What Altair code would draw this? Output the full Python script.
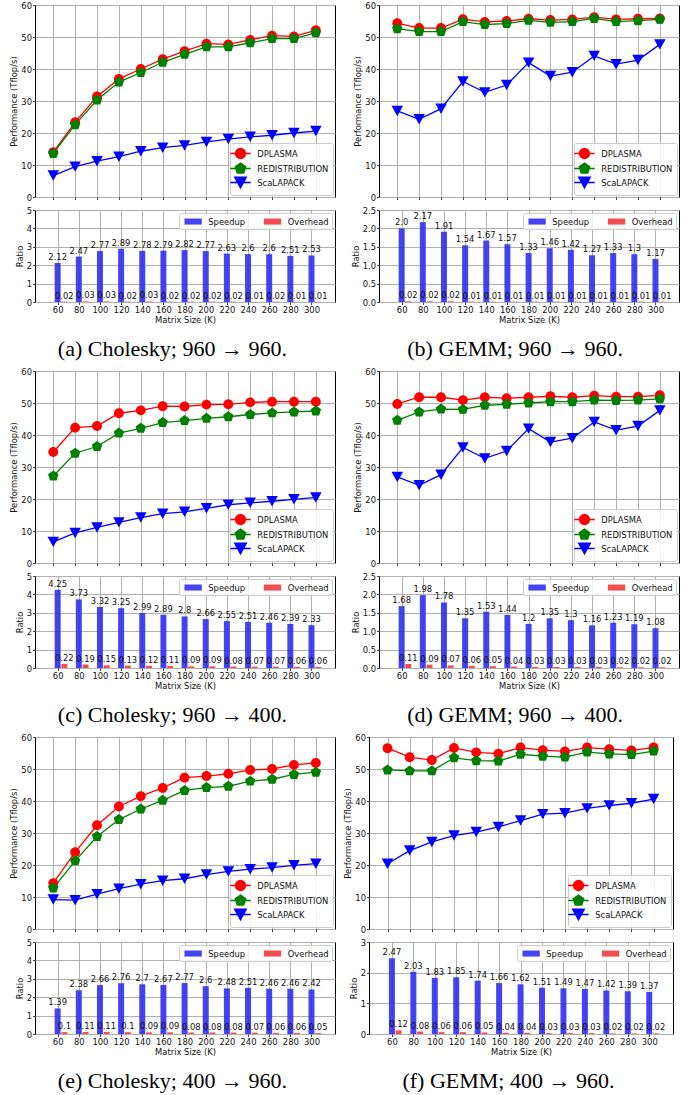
import altair as alt
import pandas as pd

sizes = [60, 80, 100, 120, 140, 160, 180, 200, 220, 240, 260, 280, 300]
series_names = ["DPLASMA", "REDISTRIBUTION", "ScaLAPACK"]
series_colors = ["#ff0000", "#008000", "#0000ff"]
ratio_names = ["Speedup", "Overhead"]
ratio_colors = ["#3030f0", "#f03c3c"]

# (a) Cholesky 960 -> 960
a_dplasma = [14.0, 23.4, 31.4, 36.9, 40.0, 43.1, 45.6, 47.9, 47.7, 49.1, 50.4, 50.2, 52.1]
a_redist = [13.6, 22.6, 30.3, 35.9, 38.9, 42.1, 44.6, 46.9, 46.9, 48.2, 49.5, 49.5, 51.3]
a_scalapack = [6.7, 9.5, 11.2, 12.6, 14.3, 15.4, 16.1, 17.2, 18.1, 18.8, 19.3, 20.0, 20.6]
a_speedup = [2.12, 2.47, 2.77, 2.89, 2.78, 2.79, 2.82, 2.77, 2.63, 2.6, 2.6, 2.51, 2.53]
a_overhead = [0.02, 0.03, 0.03, 0.02, 0.03, 0.02, 0.02, 0.02, 0.02, 0.01, 0.02, 0.01, 0.01]

# (b) GEMM 960 -> 960
b_dplasma = [54.3, 52.8, 52.8, 55.6, 54.7, 55.0, 55.7, 55.3, 55.5, 56.2, 55.5, 55.7, 55.8]
b_redist = [52.6, 51.7, 51.7, 54.8, 53.9, 54.2, 55.2, 54.6, 54.8, 55.8, 54.8, 55.1, 55.5]
b_scalapack = [26.9, 24.3, 27.6, 36.1, 32.7, 35.0, 42.0, 37.8, 39.0, 44.1, 41.5, 42.8, 47.7]
b_speedup = [2.0, 2.17, 1.91, 1.54, 1.67, 1.57, 1.33, 1.46, 1.42, 1.27, 1.33, 1.3, 1.17]
b_overhead = [0.02, 0.02, 0.02, 0.01, 0.01, 0.01, 0.01, 0.01, 0.01, 0.01, 0.01, 0.01, 0.01]

# (c) Cholesky 960 -> 400
c_dplasma = [34.7, 42.3, 42.8, 46.8, 47.7, 49.0, 48.9, 49.5, 49.6, 50.2, 50.4, 50.4, 50.4]
c_redist = [27.2, 34.3, 36.4, 40.6, 42.1, 43.9, 44.5, 45.2, 45.7, 46.4, 46.9, 47.2, 47.5]
c_scalapack = [6.6, 9.4, 11.1, 12.7, 14.2, 15.4, 16.0, 17.1, 18.2, 18.8, 19.3, 19.9, 20.5]
c_speedup = [4.25, 3.73, 3.32, 3.25, 2.99, 2.89, 2.8, 2.66, 2.55, 2.51, 2.46, 2.39, 2.33]
c_overhead = [0.22, 0.19, 0.15, 0.13, 0.12, 0.11, 0.09, 0.09, 0.08, 0.07, 0.07, 0.06, 0.06]

# (d) GEMM 960 -> 400
d_dplasma = [49.7, 51.8, 51.8, 50.9, 51.8, 51.5, 51.8, 52.1, 51.8, 52.3, 52.0, 52.0, 52.4]
d_redist = [44.6, 47.2, 48.1, 48.0, 49.3, 49.6, 50.0, 50.4, 50.4, 50.9, 50.8, 50.9, 51.3]
d_scalapack = [26.9, 24.3, 27.6, 36.1, 32.7, 35.0, 42.0, 37.8, 39.0, 44.1, 41.5, 42.8, 47.7]
d_speedup = [1.68, 1.98, 1.78, 1.35, 1.53, 1.44, 1.2, 1.35, 1.3, 1.16, 1.23, 1.19, 1.08]
d_overhead = [0.11, 0.09, 0.07, 0.06, 0.05, 0.04, 0.03, 0.03, 0.03, 0.03, 0.02, 0.02, 0.02]

# (e) Cholesky 400 -> 960
e_dplasma = [14.3, 24.0, 32.4, 38.3, 41.5, 44.1, 47.3, 47.8, 48.5, 49.7, 50.0, 51.3, 51.9]
e_redist = [12.8, 21.3, 28.9, 34.2, 37.5, 40.2, 43.3, 44.2, 44.6, 46.2, 46.8, 48.3, 49.0]
e_scalapack = [9.2, 9.0, 10.9, 12.6, 14.0, 15.1, 15.7, 17.0, 18.0, 18.7, 19.2, 19.9, 20.4]
e_speedup = [1.39, 2.38, 2.66, 2.76, 2.7, 2.67, 2.77, 2.6, 2.48, 2.51, 2.46, 2.46, 2.42]
e_overhead = [0.1, 0.11, 0.11, 0.1, 0.09, 0.09, 0.08, 0.08, 0.08, 0.07, 0.06, 0.06, 0.05]

# (f) GEMM 400 -> 960
f_dplasma = [56.5, 53.7, 52.8, 56.6, 55.2, 54.8, 56.7, 55.9, 55.5, 56.7, 56.2, 55.8, 56.7]
f_redist = [49.7, 49.4, 49.4, 53.5, 52.6, 52.5, 54.6, 54.0, 53.7, 55.3, 54.7, 54.5, 55.6]
f_scalapack = [20.4, 24.5, 27.2, 29.2, 30.3, 31.9, 33.9, 35.9, 36.2, 37.7, 38.6, 39.3, 40.6]
f_speedup = [2.47, 2.03, 1.83, 1.85, 1.74, 1.66, 1.62, 1.51, 1.49, 1.47, 1.42, 1.39, 1.37]
f_overhead = [0.12, 0.08, 0.06, 0.06, 0.05, 0.04, 0.04, 0.03, 0.03, 0.03, 0.02, 0.02, 0.02]

captions = [
    "(a) Cholesky; 960 \u2192 960.",
    "(b) GEMM; 960 \u2192 960.",
    "(c) Cholesky; 960 \u2192 400.",
    "(d) GEMM; 960 \u2192 400.",
    "(e) Cholesky; 400 \u2192 960.",
    "(f) GEMM; 400 \u2192 960.",
]

FONT = "DejaVu Sans"
FS = 8.4
TXT = "#111111"

# marker outlines; the leading horizontal segment only shows where a stroke is drawn (legend)
legend_paths = [
    "M-1.85,0H1.85M0.9,0A0.9,0.9 0 1 1 -0.9,0A0.9,0.9 0 1 1 0.9,0Z",
    "M-1.85,0H1.85M0,-1L0.951,-0.309L0.588,0.809L-0.588,0.809L-0.951,-0.309Z",
    "M-1.85,0H1.85M-1.05,-0.95L1.05,-0.95L0,0.95Z",
]
ratio_patch = "M-0.7,-0.7H3.3V0.7H-0.7Z"

XSCALE = alt.Scale(domain=[43.3, 317.5], nice=False, zero=False)
INDEP = dict(color="independent", fill="independent", stroke="independent", shape="independent")


def perf_chart(dpl, red, sca, width):
    df = pd.DataFrame({
        "size": sizes * 3,
        "series": [n for n in series_names for _ in sizes],
        "perf": list(dpl) + list(red) + list(sca),
    })
    x = alt.X("size:Q", scale=XSCALE,
              axis=alt.Axis(values=sizes, labels=False, title=None))
    y = alt.Y("perf:Q", scale=alt.Scale(domain=[0, 60], nice=False),
              axis=alt.Axis(values=list(range(0, 61, 10)), title="Performance (Tflop/s)"))
    cscale = alt.Scale(domain=series_names, range=series_colors)
    leg = alt.Legend(title=None, orient="bottom-right", offset=2, padding=4, rowPadding=-6.5,
                     labelFontSize=FS, labelFont=FONT, labelColor=TXT, labelOffset=10.3,
                     labelLimit=200, symbolSize=121, symbolStrokeWidth=1.4, symbolOpacity=1,
                     fillColor="rgba(255,255,255,0.85)", strokeColor="#cccccc", cornerRadius=2)
    base = alt.Chart(df).encode(x=x, y=y)
    line = base.mark_line(strokeWidth=1.3).encode(
        color=alt.Color("series:N", scale=cscale, legend=leg))
    pts = base.mark_point(filled=True, size=121, opacity=1).encode(
        color=alt.Color("series:N", scale=cscale, legend=leg),
        stroke=alt.Stroke("series:N", scale=cscale, legend=leg),
        strokeOpacity=alt.value(0),
        shape=alt.Shape("series:N", scale=alt.Scale(domain=series_names, range=legend_paths), legend=leg))
    return alt.layer(line, pts).properties(width=width, height=192)


def ratio_chart(speed, over, ymax, yvals, yfmt, width):
    vals = list(speed) + list(over)
    df = pd.DataFrame({
        "size": sizes * 2,
        "metric": ["Speedup"] * len(sizes) + ["Overhead"] * len(sizes),
        "ratio": vals,
        "label": [str(v) for v in vals],
    })
    x = alt.X("size:Q", scale=XSCALE,
              axis=alt.Axis(values=sizes, title="Matrix Size (K)", labelFlush=False, labelOverlap=False))
    y = alt.Y("ratio:Q", scale=alt.Scale(domain=[0, ymax], nice=False),
              axis=alt.Axis(values=yvals, format=yfmt, title="Ratio"))
    rscale = alt.Scale(domain=ratio_names, range=ratio_colors)
    leg = alt.Legend(title=None, orient="top-right", direction="horizontal", offset=3, padding=3,
                     columnPadding=15.4, labelOffset=15.3, labelFontSize=FS, labelFont=FONT,
                     labelColor=TXT, symbolType=ratio_patch, symbolSize=75, symbolOpacity=0.9,
                     fillColor="rgba(255,255,255,0.85)", strokeColor="#cccccc", cornerRadius=2)
    base = alt.Chart(df).encode(x=x, y=y)
    sp = base.transform_filter(alt.datum.metric == "Speedup")
    ov = base.transform_filter(alt.datum.metric == "Overhead")
    bar_sp = sp.mark_bar(size=6, opacity=0.9).encode(
        color=alt.Color("metric:N", scale=rscale, legend=leg))
    bar_ov = ov.mark_bar(size=6, opacity=0.9, xOffset=6.7).encode(
        color=alt.Color("metric:N", scale=rscale, legend=leg))
    txt_sp = sp.mark_text(baseline="alphabetic", dy=-3, fontSize=FS, font=FONT, color=TXT).encode(
        text="label:N")
    txt_ov = ov.mark_text(baseline="alphabetic", dy=-3, dx=6.7, fontSize=FS, font=FONT, color=TXT).encode(
        text="label:N")
    return alt.layer(bar_sp, bar_ov, txt_sp, txt_ov).properties(width=width, height=92)


def panel(dpl, red, sca, speed, over, ymax, yvals, yfmt, cap, width=300):
    title = alt.TitleParams(text=cap, orient="bottom", anchor="middle", font="Liberation Serif",
                            fontSize=22, fontWeight="normal", color="black", offset=14)
    return alt.vconcat(perf_chart(dpl, red, sca, width),
                       ratio_chart(speed, over, ymax, yvals, yfmt, width),
                       spacing=3, title=title).resolve_scale(**INDEP).resolve_legend(**INDEP)


y5 = [0, 1, 2, 3, 4, 5]
y25 = [0, 0.5, 1.0, 1.5, 2.0, 2.5]
y3 = [0, 1, 2, 3]

pa = panel(a_dplasma, a_redist, a_scalapack, a_speedup, a_overhead, 5, y5, "d", captions[0])
pb = panel(b_dplasma, b_redist, b_scalapack, b_speedup, b_overhead, 2.5, y25, ".1f", captions[1])
pc = panel(c_dplasma, c_redist, c_scalapack, c_speedup, c_overhead, 5, y5, "d", captions[2])
pd_ = panel(d_dplasma, d_redist, d_scalapack, d_speedup, d_overhead, 2.5, y25, ".1f", captions[3])
pe = panel(e_dplasma, e_redist, e_scalapack, e_speedup, e_overhead, 5, y5, "d", captions[4])
pf = panel(f_dplasma, f_redist, f_scalapack, f_speedup, f_overhead, 3, y3, "d", captions[5], width=304)

row1 = alt.hconcat(pa, pb, spacing=14).resolve_scale(**INDEP).resolve_legend(**INDEP)
row2 = alt.hconcat(pc, pd_, spacing=14).resolve_scale(**INDEP).resolve_legend(**INDEP)
row3 = alt.hconcat(pe, pf, spacing=7).resolve_scale(**INDEP).resolve_legend(**INDEP)

chart = alt.vconcat(row1, row2, row3, spacing=6).resolve_scale(**INDEP).resolve_legend(**INDEP).properties(
    padding={"left": 9, "top": 0, "right": 2, "bottom": 2}, background="white"
).configure(font=FONT).configure_view(
    stroke="black", strokeWidth=1
).configure_axis(
    labelFont=FONT, labelFontSize=FS, labelColor=TXT, titleFont=FONT, titleFontSize=FS,
    titleFontWeight="normal", titleColor=TXT, tickColor=TXT, tickSize=2.5, tickWidth=0.8,
    labelPadding=1, titlePadding=2, domain=False, gridColor="#b0b0b0", gridWidth=1, grid=True
)

chart.save("out.html", embed_options={"renderer": "svg", "actions": False})
